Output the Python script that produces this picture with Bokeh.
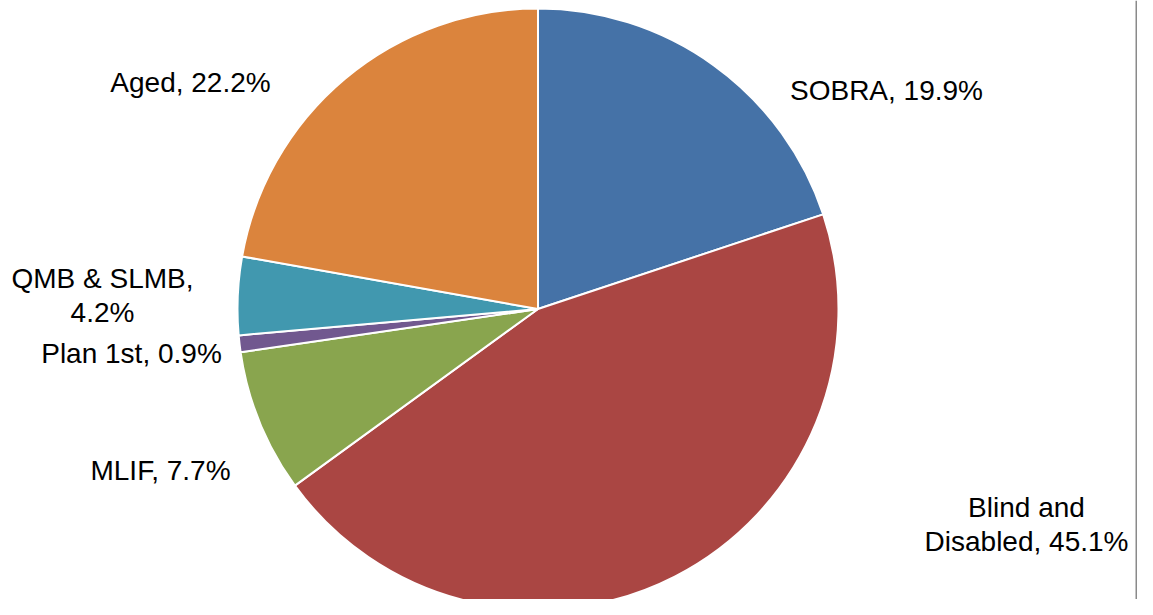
import math
from bokeh.plotting import figure
from bokeh.models import ColumnDataSource, Range1d, Span
from bokeh.embed import file_html
from bokeh.resources import INLINE
from bokeh.core.properties import value

# ---- data ----
categories = ["SOBRA", "Blind and Disabled", "MLIF", "Plan 1st", "QMB & SLMB", "Aged"]
shares = [19.9, 45.1, 7.7, 0.9, 4.2, 22.2]
label_texts = ["SOBRA, 19.9%", "Blind and\nDisabled, 45.1%", "MLIF, 7.7%",
               "Plan 1st, 0.9%", "QMB & SLMB,\n4.2%", "Aged, 22.2%"]
colors = ["#4572A7", "#AA4643", "#89A54E", "#71588F", "#4198AF", "#DB843D"]

# ---- layout (image-pixel based coordinates; y = -image_y) ----
W, H = 1137, 599
cx, cy, R = 537.5, -308.5, 300.5
label_pos = [(886, -90), (1026, -524), (160, -470), (131, -353), (102, -295), (190, -82)]

total = sum(shares)
starts, ends = [], []
c = 0.0
for s in shares:
    starts.append(math.pi / 2 - 2 * math.pi * c / total)
    c += s
    ends.append(math.pi / 2 - 2 * math.pi * c / total)

src = ColumnDataSource(dict(cat=categories, share=shares, start=starts, end=ends, color=colors))
lsrc = ColumnDataSource(dict(text=label_texts,
                             x=[p[0] for p in label_pos],
                             y=[p[1] for p in label_pos]))

p = figure(width=W, height=H, output_backend="svg", toolbar_location=None,
           x_range=Range1d(0, W), y_range=Range1d(-H, 0),
           min_border=0)
p.axis.visible = False
p.grid.visible = False
p.outline_line_color = None
p.background_fill_color = "white"
p.border_fill_color = "white"

p.wedge(x=cx, y=cy, radius=R, start_angle="start", end_angle="end",
        direction="clock", fill_color="color", line_color="white", line_width=2,
        source=src)

p.text(x="x", y="y", text="text", source=lsrc,
       text_font=value("Liberation Sans"), text_font_size="28px",
       text_color="black", text_align="center", text_baseline="middle",
       text_line_height=1.12)

p.add_layout(Span(location=1136, dimension="height", line_color="#8a8a8a", line_width=2))

open("out.html", "w").write(file_html(p, INLINE))
